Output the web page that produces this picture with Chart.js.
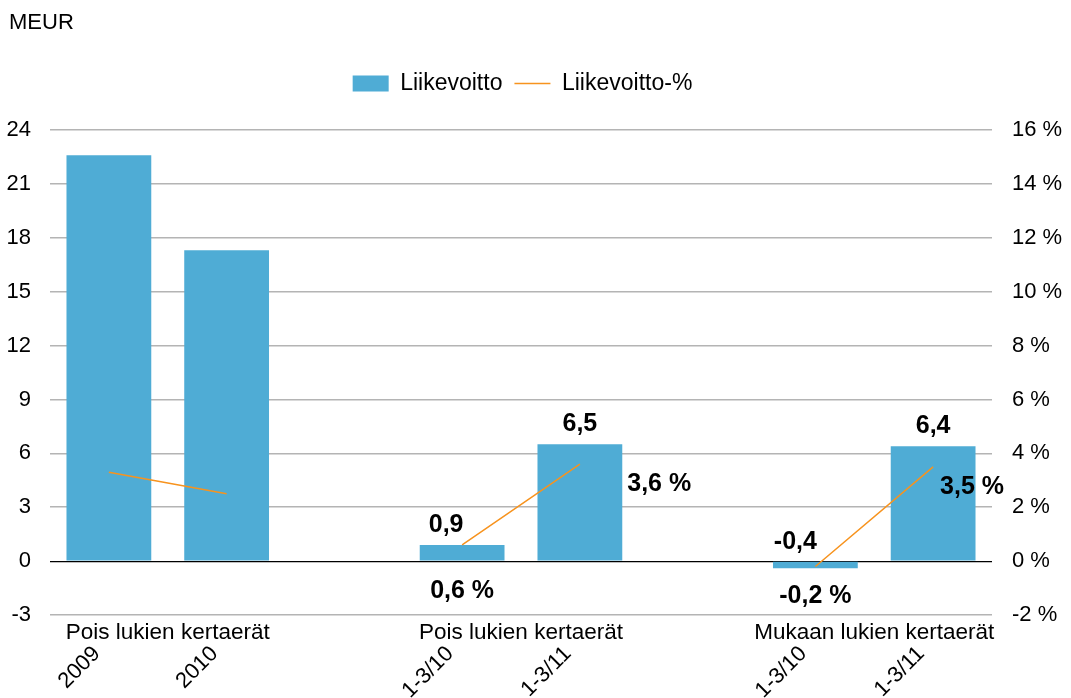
<!DOCTYPE html>
<html>
<head>
<meta charset="utf-8">
<script src="https://cdn.jsdelivr.net/npm/chart.js@4.4.1/dist/chart.umd.min.js"></script>
<style>
  html, body { margin: 0; padding: 0; background: #fff; }
  #wrap { width: 1071px; height: 698px; }
</style>
</head>
<body>
<div id="wrap"><canvas id="chart"></canvas></div>
<script>
// categories (empty slots separate the groups)
const kaudet = ["2009", "2010", "", "1-3/10", "1-3/11", "", "1-3/10", "1-3/11"];
const ryhmat = [
    { label: "Pois lukien kertaerät", from: 0, to: 1 },
    { label: "Pois lukien kertaerät", from: 3, to: 4 },
    { label: "Mukaan lukien kertaerät", from: 6, to: 7 }
];
// MEUR
const liikevoitto = [22.6, 17.3, null, 0.9, 6.5, null, -0.4, 6.4];
// %
const liikevoittoPros = [3.3, 2.5, null, 0.6, 3.6, null, -0.2, 3.5];
// which points get a value label
const naytaArvo = [false, false, false, true, true, false, true, true];
const prosSijainti = ["", "", "", "below", "right", "", "below", "right"];
// small sideways nudge for the bar labels, px
const arvoSiirto = [0, 0, 0, -16, 0, 0, -20, 0];

const sininen = "#4FACD5";
const oranssi = "#F7931E";
const fontti = "'Liberation Sans', Arial, sans-serif";

Chart.defaults.font.family = fontti;
Chart.defaults.color = "#000";

function pilkku(v) {
    return String(v).replace(".", ",");
}

// more room under the legend, and legend a bit left of centre
const legendGap = {
    id: "legendGap",
    beforeInit(chart) {
        const fit = chart.legend.fit;
        chart.legend.fit = function () {
            fit.call(this);
            this.height += 25;
        };
        const draw = chart.legend.draw;
        chart.legend.draw = function () {
            this.ctx.save();
            this.ctx.translate(-13, 0);
            draw.call(this);
            this.ctx.restore();
        };
    }
};

const arvoLabels = {
    id: "arvoLabels",
    afterDatasetsDraw(chart) {
        const ctx = chart.ctx;
        const bars = chart.getDatasetMeta(0).data;
        const pts = chart.getDatasetMeta(1).data;
        const zeroY = chart.scales.y.getPixelForValue(0);
        ctx.save();
        ctx.font = "bold 25px " + fontti;
        ctx.fillStyle = "#000";
        ctx.textBaseline = "middle";
        for (let i = 0; i < kaudet.length; i++) {
            if (!naytaArvo[i]) continue;
            const b = bars[i];
            ctx.textAlign = "center";
            ctx.fillText(pilkku(liikevoitto[i]), b.x + arvoSiirto[i], Math.min(b.y, b.base) - 20);

            const p = pts[i];
            const txt = pilkku(liikevoittoPros[i]) + " %";
            const w = ctx.measureText(txt).width;
            if (prosSijainti[i] === "below") {
                ctx.textAlign = "center";
                ctx.fillText(txt, p.x, Math.max(p.y, zeroY) + 30);
            } else if (prosSijainti[i] === "right") {
                ctx.textAlign = "left";
                const x = Math.min(p.x + b.width / 2 + 5, chart.chartArea.right + 12 - w);
                ctx.fillText(txt, x, p.y + 20);
            }
        }
        ctx.restore();
    }
};

const ryhmaLabels = {
    id: "ryhmaLabels",
    afterDraw(chart) {
        const ctx = chart.ctx;
        const x = chart.scales.x;
        ctx.save();
        ctx.font = "22.5px " + fontti;
        ctx.fillStyle = "#000";
        ctx.textAlign = "center";
        ctx.textBaseline = "middle";
        ryhmat.forEach(r => {
            const cx = (x.getPixelForValue(r.from) + x.getPixelForValue(r.to)) / 2;
            ctx.fillText(r.label, cx, x.top + 18);
        });
        // unit above the left axis
        ctx.textAlign = "left";
        ctx.font = "22px " + fontti;
        ctx.fillText("MEUR", 9, 23);
        ctx.restore();
    }
};

const ctx = document.getElementById("chart").getContext("2d");
new Chart(ctx, {
    type: "bar",
    data: {
        labels: kaudet,
        datasets: [
            {
                label: "Liikevoitto",
                data: liikevoitto,
                backgroundColor: sininen,
                barPercentage: 0.72,
                categoryPercentage: 1,
                yAxisID: "y",
                order: 1
            },
            {
                type: "line",
                label: "Liikevoitto-%",
                data: liikevoittoPros,
                borderColor: oranssi,
                backgroundColor: oranssi,
                borderWidth: 1.5,
                pointRadius: 0,
                spanGaps: false,
                yAxisID: "y1",
                order: 0
            }
        ]
    },
    options: {
        responsive: true,
        maintainAspectRatio: false,
        animation: false,
        layout: { padding: { top: 60, left: 0, right: 0, bottom: 0 } },
        plugins: {
            tooltip: { enabled: false },
            legend: {
                position: "top",
                labels: {
                    usePointStyle: true,
                    pointStyleWidth: 36,
                    boxHeight: 16,
                    padding: 12,
                    font: { size: 23 },
                    generateLabels: function () {
                        return [
                            { text: "Liikevoitto", fillStyle: sininen, strokeStyle: sininen, lineWidth: 0, pointStyle: "rect", datasetIndex: 0, hidden: false },
                            { text: "Liikevoitto-%", fillStyle: oranssi, strokeStyle: oranssi, lineWidth: 1.5, pointStyle: "line", datasetIndex: 1, hidden: false }
                        ];
                    }
                }
            }
        },
        scales: {
            x: {
                grid: { display: false },
                border: { display: false },
                ticks: {
                    autoSkip: false,
                    maxRotation: 45,
                    minRotation: 45,
                    padding: 18,
                    labelOffset: -12,
                    font: { size: 22 }
                },
                afterFit: function (s) { s.height = 83; }
            },
            y: {
                position: "left",
                min: -3,
                max: 24,
                border: { display: false },
                grid: {
                    drawTicks: false,
                    color: c => c.tick.value === 0 ? "#000" : "#B4B4B4",
                    lineWidth: c => c.tick.value === 0 ? 1.2 : 1.5
                },
                ticks: { stepSize: 3, padding: 19, font: { size: 22 } },
                afterFit: function (s) { s.width = 50; }
            },
            y1: {
                position: "right",
                min: -2,
                max: 16,
                border: { display: false },
                grid: { display: false, drawTicks: false },
                ticks: {
                    stepSize: 2,
                    padding: 20,
                    font: { size: 22 },
                    callback: v => v + " %"
                },
                afterFit: function (s) { s.width = 79; }
            }
        }
    },
    plugins: [legendGap, arvoLabels, ryhmaLabels]
});
</script>
</body>
</html>
